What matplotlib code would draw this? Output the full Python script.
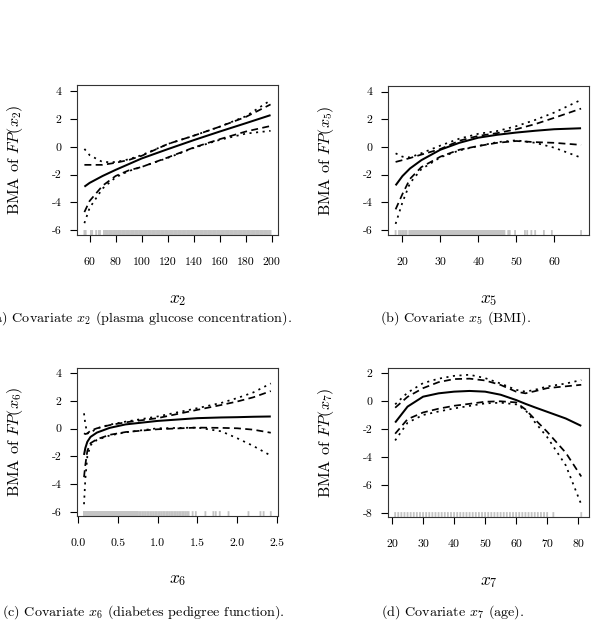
import numpy as np
import matplotlib
matplotlib.use('Agg')
import matplotlib.pyplot as plt

plt.rcParams['font.family'] = ['cmr10', 'DejaVu Serif']
plt.rcParams['mathtext.fontset'] = 'cm'
plt.rcParams['axes.unicode_minus'] = False
plt.rcParams['axes.formatter.use_mathtext'] = True

# (a) plasma glucose concentration
x2 = [56, 60, 70, 80, 90, 100, 120, 140, 160, 180, 199]
x2_mean = [-2.87, -2.6, -2.1, -1.66, -1.25, -0.84, -0.17, 0.48, 1.1, 1.7, 2.28]
x2_dash_up = [-1.3, -1.3, -1.3, -1.15, -0.95, -0.65, 0.2, 0.8, 1.45, 2.15, 3.05]
x2_dot_up = [-0.15, -0.6, -1.1, -1.1, -0.9, -0.6, 0.2, 0.8, 1.45, 2.2, 3.35]
x2_dash_lo = [-4.7, -3.9, -2.8, -2.1, -1.7, -1.45, -0.77, -0.05, 0.55, 1.1, 1.5]
x2_dot_lo = [-5.5, -4.4, -3.0, -2.2, -1.75, -1.45, -0.8, -0.08, 0.5, 0.95, 1.15]
rug_x2 = [56, 57, 61, 62, 65, 67, 68, 71, 72, 73, 74, 75, 76, 77, 78, 79] + list(range(80, 200))

# (b) BMI
x5 = [18.2, 20, 22, 25, 30, 35, 40, 45, 50, 55, 60, 67.1]
x5_mean = [-2.77, -2.1, -1.55, -0.95, -0.2, 0.3, 0.67, 0.88, 1.04, 1.17, 1.28, 1.35]
x5_dash_up = [-1.08, -0.95, -0.8, -0.55, -0.15, 0.45, 0.8, 1.0, 1.28, 1.65, 2.1, 2.77]
x5_dot_up = [-0.46, -0.7, -0.75, -0.45, 0.1, 0.6, 0.95, 1.15, 1.5, 1.95, 2.48, 3.4]
x5_dash_lo = [-4.5, -3.4, -2.3, -1.45, -0.7, -0.2, 0.07, 0.3, 0.43, 0.35, 0.3, 0.15]
x5_dot_lo = [-5.55, -4.0, -2.6, -1.6, -0.75, -0.25, 0.07, 0.35, 0.48, 0.3, -0.05, -0.77]
rug_x5 = ([18.2, 19.1, 19.6, 20.0, 20.4, 20.8, 21.1, 21.8, 22.2] + list(np.arange(22.5, 47.0, 0.1))
          + [47.9, 48.3, 49.7, 52.3, 52.9, 54.0, 55.0, 57.3, 59.4, 67.1])

# (c) diabetes pedigree function
x6 = [0.078, 0.095, 0.12, 0.16, 0.24, 0.4, 0.6, 1.0, 1.5, 1.8, 2.0, 2.2, 2.42]
x6_mean = [-1.9, -1.4, -0.95, -0.6, -0.29, 0.05, 0.3, 0.55, 0.75, 0.8, 0.82, 0.85, 0.87]
x6_dash_up = [-0.34, -0.4, -0.35, -0.15, 0.02, 0.25, 0.45, 0.75, 1.35, 1.7, 1.95, 2.25, 2.7]
x6_dot_up = [1.1, 0.3, -0.35, -0.3, 0.02, 0.28, 0.5, 0.87, 1.47, 1.85, 2.2, 2.6, 3.25]
x6_dash_lo = [-3.5, -2.6, -1.6, -1.05, -0.77, -0.45, -0.25, -0.05, 0.07, 0.05, 0.02, -0.08, -0.3]
x6_dot_lo = [-5.45, -3.6, -2.0, -1.2, -0.82, -0.5, -0.27, 0.02, 0.07, -0.2, -0.7, -1.25, -1.95]
rug_x6 = (list(np.arange(0.078, 0.75, 0.002)) + list(np.arange(0.75, 1.40, 0.02))
          + [1.44, 1.48, 1.60, 1.70, 1.73, 1.78, 1.89, 2.14, 2.29, 2.33, 2.42])

# (d) age
x7 = [21, 25, 30, 35, 40, 45, 50, 55, 60, 63, 66, 70, 76, 81]
x7_mean = [-1.54, -0.4, 0.31, 0.55, 0.67, 0.72, 0.67, 0.45, 0.07, -0.2, -0.45, -0.77, -1.25, -1.78]
x7_dash_up = [-0.48, 0.3, 0.92, 1.35, 1.57, 1.6, 1.47, 1.15, 0.67, 0.55, 0.7, 0.92, 1.05, 1.16]
x7_dot_up = [-0.24, 0.6, 1.28, 1.6, 1.8, 1.88, 1.64, 1.25, 0.8, 0.67, 0.8, 1.04, 1.25, 1.5]
x7_dash_lo = [-2.34, -1.3, -0.82, -0.55, -0.34, -0.2, -0.05, -0.02, -0.1, -0.6, -1.3, -2.2, -3.7, -5.4]
x7_dot_lo = [-2.82, -1.55, -1.0, -0.75, -0.53, -0.35, -0.17, -0.12, -0.24, -0.65, -1.5, -2.58, -4.6, -7.4]
rug_x7 = list(range(21, 64)) + [64, 65, 66, 67, 68, 69, 70, 72, 81]


class para:
    lw = 1.25
    dashed = (4, 2.5)
    dotted = (1.2, 2.6)
    rug_color = '#c4c4c4'
    tick_size = 8.5
    label_size = 11.5
    caption_size = 10.2


panels = [
    dict(pos=[0.1283, 0.6210, 0.335, 0.2419], x=x2, mean=x2_mean, du=x2_dash_up, tu=x2_dot_up,
         dl=x2_dash_lo, tl=x2_dot_lo, rug=rug_x2, xlim=(50.3, 204.7), ylim=(-6.35, 4.45),
         xticks=[60, 80, 100, 120, 140, 160, 180, 200], xtl=None, yticks=[-6, -4, -2, 0, 2, 4],
         name='x_2', cap=r'(a) Covariate $x_2$ (plasma glucose concentration).', capx=140, capy=318),
    dict(pos=[0.6467, 0.6210, 0.335, 0.2403], x=x5, mean=x5_mean, du=x5_dash_up, tu=x5_dot_up,
         dl=x5_dash_lo, tl=x5_dot_lo, rug=rug_x5, xlim=(16.2, 69.2), ylim=(-6.35, 4.4),
         xticks=[20, 30, 40, 50, 60], xtl=None, yticks=[-6, -4, -2, 0, 2, 4],
         name='x_5', cap=r'(b) Covariate $x_5$ (BMI).', capx=455, capy=318),
    dict(pos=[0.1283, 0.1677, 0.335, 0.2387], x=x6, mean=x6_mean, du=x6_dash_up, tu=x6_dot_up,
         dl=x6_dash_lo, tl=x6_dot_lo, rug=rug_x6, xlim=(-0.01, 2.51), ylim=(-6.3, 4.36),
         xticks=[0.0, 0.5, 1.0, 1.5, 2.0, 2.5], xtl=['0.0', '0.5', '1.0', '1.5', '2.0', '2.5'],
         yticks=[-6, -4, -2, 0, 2, 4],
         name='x_6', cap=r'(c) Covariate $x_6$ (diabetes pedigree function).', capx=143, capy=612),
    dict(pos=[0.6467, 0.1661, 0.335, 0.2403], x=x7, mean=x7_mean, du=x7_dash_up, tu=x7_dot_up,
         dl=x7_dash_lo, tl=x7_dot_lo, rug=rug_x7, xlim=(18.7, 83.5), ylim=(-8.3, 2.36),
         xticks=[20, 30, 40, 50, 60, 70, 80], xtl=None, yticks=[-8, -6, -4, -2, 0, 2],
         name='x_7', cap=r'(d) Covariate $x_7$ (age).', capx=453, capy=612),
]

fig = plt.figure(figsize=(6, 6.2), dpi=100)
for p in panels:
    ax = fig.add_axes(p['pos'])
    ax.vlines(p['rug'], 0, 0.033, transform=ax.get_xaxis_transform(),
              color=para.rug_color, lw=1.3, snap=False)
    ax.plot(p['x'], p['mean'], color='k', lw=para.lw + 0.2, solid_capstyle='butt')
    for key in ['du', 'dl']:
        ax.plot(p['x'], p[key], color='k', lw=para.lw, dashes=para.dashed)
    for key in ['tu', 'tl']:
        ax.plot(p['x'], p[key], color='k', lw=para.lw, dashes=para.dotted)
    ax.set_xlim(p['xlim'])
    ax.set_ylim(p['ylim'])
    ax.set_xticks(p['xticks'])
    if p['xtl'] is not None:
        ax.set_xticklabels(p['xtl'])
    else:
        ax.set_xticklabels([str(v) for v in p['xticks']])
    ax.set_yticks(p['yticks'])
    ax.set_yticklabels([str(v) for v in p['yticks']])
    ax.tick_params(axis='x', direction='out', length=5, width=0.8, pad=11,
                   labelsize=para.tick_size)
    ax.tick_params(axis='y', direction='out', length=5, width=0.8, pad=6,
                   labelsize=para.tick_size)
    for s in ax.spines.values():
        s.set_linewidth(0.8)
        s.set_color('#333333')
    ax.set_xlabel('$' + p['name'] + '$', fontsize=para.label_size + 1)
    ax.xaxis.set_label_coords(0.5, -0.385)
    ax.set_ylabel('BMA of $FP(' + p['name'] + ')$', fontsize=para.label_size)
    ax.yaxis.set_label_coords(-0.26, 0.5)
    fig.text(p['capx'] / 600, 1 - p['capy'] / 620, p['cap'], ha='center', va='center',
             fontsize=para.caption_size)

fig.savefig('out.png', dpi=100)
